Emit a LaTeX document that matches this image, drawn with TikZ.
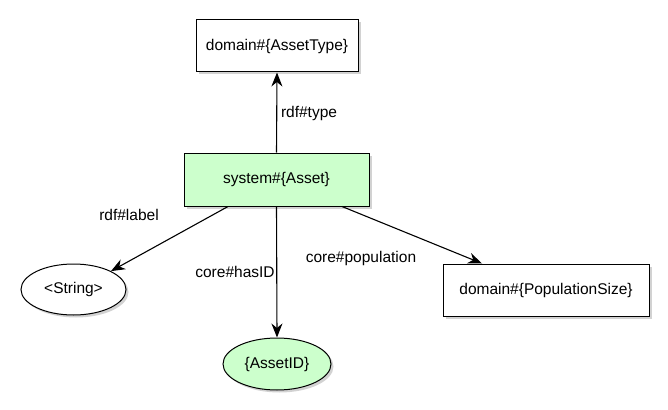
\documentclass[tikz,border=0pt]{standalone}
\usepackage{fontspec}
\setmainfont{Liberation Sans}
\usetikzlibrary{arrows.meta,shapes.geometric,shadows}
\definecolor{lgreen}{HTML}{CCFFCC}
\begin{document}
\begin{tikzpicture}[x=1pt,y=-1pt,
  every node/.style={font=\fontsize{15.5}{18}\selectfont},
  shad/.style={drop shadow={shadow xshift=2.5pt,shadow yshift=-2.5pt,opacity=0.35,fill=gray}},
  rbox/.style={draw=black,line width=1pt,fill=white,rectangle,inner sep=0pt,shad},
  rell/.style={draw=black,line width=1pt,fill=white,ellipse,inner sep=0pt,shad},
  conn/.style={line width=1.1pt,-{Stealth[length=14pt,width=11pt,inset=4.5pt]}},
  lbl/.style={inner sep=0pt}
]
\useasboundingbox[fill=white] (0,0) rectangle (668,409);
\node[rbox,minimum width=162pt,minimum height=52pt] (type) at (277,46) {domain\#\{AssetType\}};
\node[rbox,fill=lgreen,minimum width=185pt,minimum height=53pt] (asset) at (276.5,179.5) {system\#\{Asset\}};
\node[rell,minimum width=105pt,minimum height=51pt] (str) at (73.5,289.5) {<String>};
\node[rell,fill=lgreen,minimum width=108pt,minimum height=52pt] (id) at (277,364) {\{AssetID\}};
\node[rbox,minimum width=206pt,minimum height=52pt] (pop) at (546,290) {domain\#\{PopulationSize\}};

\draw[conn] (asset.north) -- (type.south);
\draw[conn] (asset.south) -- (id.north);
\draw[conn] (asset.south west -| 228,0) -- (str.north east);
\draw[conn] (asset.south east -| 342,0) -- (pop.north -| 482,0);

\node[lbl] (l1) at (309,113) {rdf\#type};
\node[lbl] (l2) at (129,215) {rdf\#label};
\node[lbl] (l3) at (235,272) {core\#hasID};
\node[lbl] (l4) at (361,258) {core\#population};
\end{tikzpicture}
\end{document}
